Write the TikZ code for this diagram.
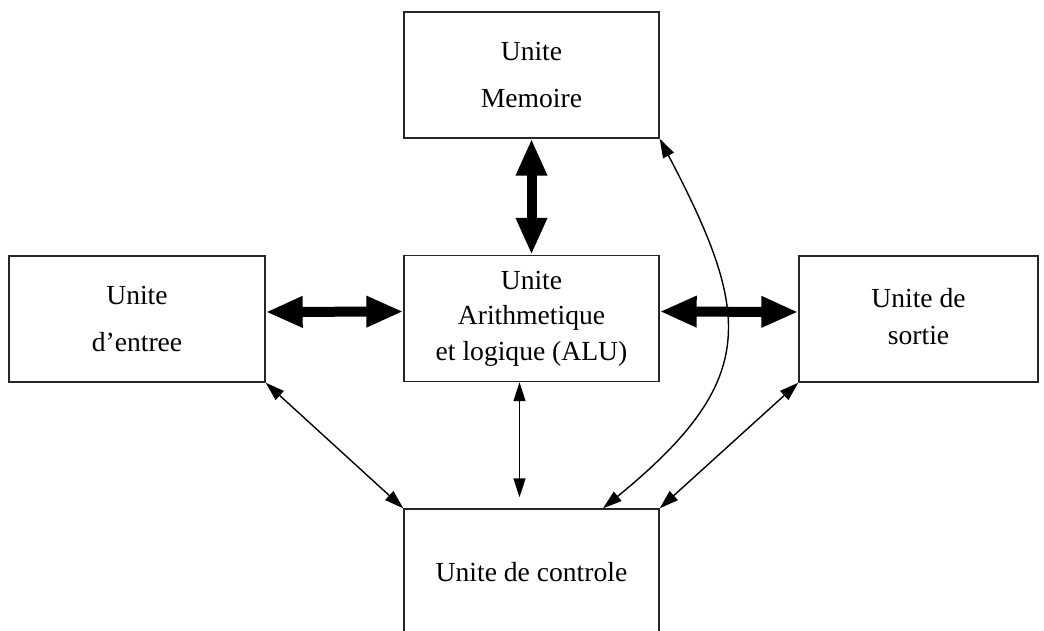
\documentclass[tikz,border=0pt]{standalone}
\usepackage{fontspec}
\setmainfont{Liberation Serif}
\usetikzlibrary{arrows.meta}
\begin{document}
\begin{tikzpicture}[x=1pt,y=-1pt,
  unit/.style={draw=black!85, line width=1.4pt, minimum width=255pt,
    minimum height=126pt, inner sep=0pt, align=center,
    font=\fontsize{27.6}{47}\selectfont},
  bigarrow/.style={line width=10pt,
    {Triangle[length=37pt,width=29pt]}-{Triangle[length=37pt,width=29pt]}},
  thinarrow/.style={line width=1.4pt,
    {Triangle[length=19pt,width=12pt]}-{Triangle[length=19pt,width=12pt]}}]
  \useasboundingbox (0,0) rectangle (1044,631);
  \clip (0,0) rectangle (1044,631);

  % the five units
  \node[unit] (mem) at (531.5,75) {Unite\\Memoire};
  \node[unit, font=\fontsize{27.6}{35.5}\selectfont] (alu) at (531.5,318.5)
    {Unite\\Arithmetique\\et logique (ALU)};
  \node[unit, minimum width=256pt] (ent) at (137,319) {Unite\\d'entree};
  \node[unit, minimum width=239pt, font=\fontsize{27.6}{37}\selectfont]
    (sor) at (918.5,319) {\raisebox{16pt}{\begin{tabular}{@{}c@{}}Unite de\\sortie\end{tabular}}};
  \node[unit] (ctl) at (531.5,572) {Unite de controle};

  % data paths
  \draw[bigarrow] (mem.south) -- (alu.north);
  \draw[bigarrow] ([yshift=7pt]ent.east) -- ([yshift=7pt]alu.west);
  \draw[bigarrow] ([yshift=7pt]alu.east) -- ([yshift=7pt]sor.west);

  % control paths
  \coordinate (aluend) at ([xshift=-12pt,yshift=11pt]ctl.north);
  \draw[thinarrow] ([xshift=-12pt]alu.south) -- (aluend);
  \draw[thinarrow] (ent.south east) -- (ctl.north west);
  \draw[thinarrow] (sor.south west) -- (ctl.north east);
  \draw[thinarrow] ([xshift=71.5pt]ctl.north)
    .. controls (760,380) and (752,315) .. (mem.south east);
\end{tikzpicture}
\end{document}
